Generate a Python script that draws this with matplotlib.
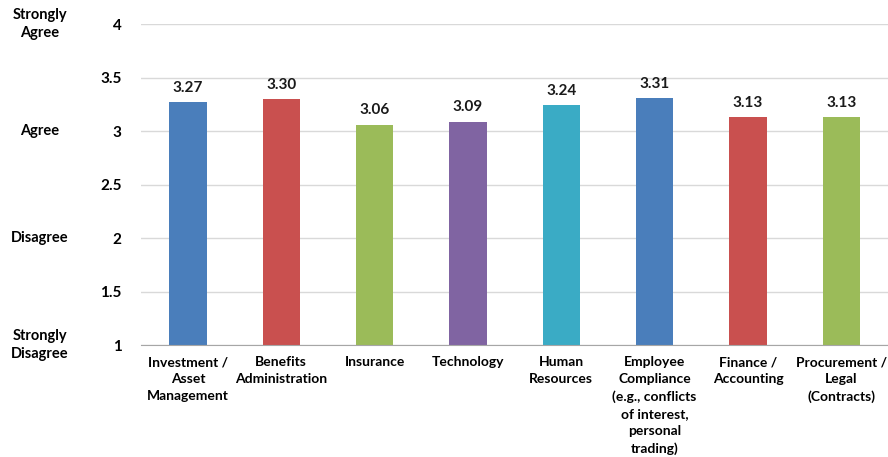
import matplotlib.pyplot as plt
import matplotlib.transforms as mtransforms

# Datos de la encuesta
categorias = ['Investment /\nAsset\nManagement', 'Benefits\nAdministration', 'Insurance',
              'Technology', 'Human\nResources',
              'Employee\nCompliance\n(e.g., conflicts\nof interest,\npersonal\ntrading)',
              'Finance /\nAccounting', 'Procurement /\nLegal\n(Contracts)']
valores = [3.27, 3.30, 3.06, 3.09, 3.24, 3.31, 3.13, 3.13]
colores = ['#4A7EBB', '#C9504F', '#9BBB59', '#8064A2', '#3AABC5', '#4A7EBB', '#C9504F', '#9BBB59']
ticks_y = [1, 1.5, 2, 2.5, 3, 3.5, 4]
escala = [(4, 'Strongly\nAgree'), (3, 'Agree'), (2, 'Disagree'), (1, 'Strongly\nDisagree')]

plt.rcParams['font.family'] = ['Lato', 'DejaVu Sans']
plt.rcParams['font.weight'] = 'bold'

fig = plt.figure(figsize=(8.88, 4.57), dpi=100)
ax = fig.add_axes([0.159, 0.245, 0.841, 0.702])

x = list(range(len(valores)))
ax.bar(x, valores, width=0.4, color=colores, bottom=0, zorder=2)
ax.set_xlim(-0.5, len(valores) - 0.5)
ax.set_ylim(1, 4)

for xi, v in zip(x, valores):
    ax.text(xi, v + 0.07, f'{v:.2f}', ha='center', va='bottom', fontsize=11,
            fontweight='bold', color='#1a1a1a')

ax.set_yticks(ticks_y)
ax.set_yticklabels([f'{t:g}' for t in ticks_y], fontsize=11, fontweight='bold')
ax.set_xticks(x)
ax.set_xticklabels(categorias, fontsize=10, fontweight='bold', linespacing=1.5, va='top')
ax.tick_params(axis='y', length=0, pad=14)
ax.tick_params(axis='x', length=0, pad=8)

ax.grid(axis='y', color='#D9D9D9', linewidth=1, zorder=0)
for s in ['top', 'right', 'left']:
    ax.spines[s].set_visible(False)
ax.spines['bottom'].set_color('#A6A6A6')
ax.spines['bottom'].set_zorder(3)

# Etiquetas de la escala a la izquierda
trans = mtransforms.blended_transform_factory(fig.transFigure, ax.transData)
for nivel, texto in escala:
    ax.text(0.045, nivel, texto, transform=trans, ha='center', va='center',
            fontsize=10.5, fontweight='bold', linespacing=1.4, clip_on=False)

fig.savefig('out.png', dpi=100)
